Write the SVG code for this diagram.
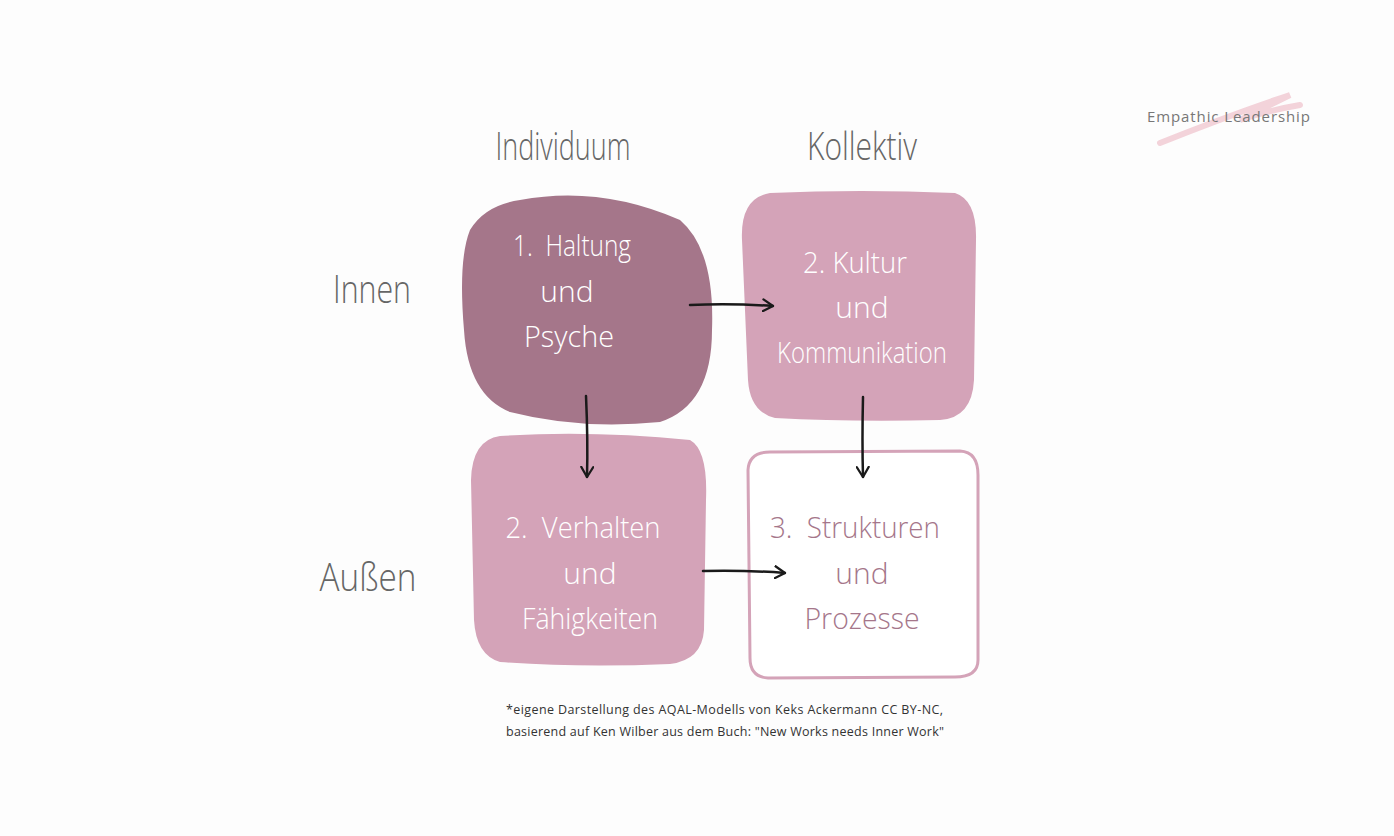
<svg xmlns="http://www.w3.org/2000/svg" width="1394" height="836" viewBox="0 0 1394 836">
<style>
.h{font-family:"Open Sans",sans-serif;font-weight:300;fill:#666;font-size:38px}
.t{font-family:"Open Sans",sans-serif;font-weight:300;fill:#fff;font-size:30px;text-anchor:middle;white-space:pre}
.p{fill:#a5768a}
.w{fill:#fff;stroke:#d4a3b8;stroke-width:3}
.c{stroke:#1a1a1a;stroke-width:2.5;fill:none;stroke-linecap:round}
</style>
<defs><marker id="a" viewBox="0 0 12 14" refX="11" refY="7" markerWidth="12" markerHeight="14" markerUnits="userSpaceOnUse" orient="auto"><path d="M1 1 L11 7 L1 13" fill="none" stroke="#1a1a1a" stroke-width="2.2" stroke-linecap="round"/></marker></defs>
<rect width="1394" height="836" fill="#fdfdfd"/>
<g id="logo"><path d="M1160 143 Q1230 115 1290 95 L1240 120 Q1270 110 1300 105" stroke="#f3d3da" stroke-width="6" fill="none" stroke-linecap="round"/>
<text x="1147" y="122" font-family="Open Sans,sans-serif" font-size="15" fill="#777" textLength="163" lengthAdjust="spacing">Empathic Leadership</text></g>
<text class="h" x="563" y="160" text-anchor="middle" textLength="135" lengthAdjust="spacingAndGlyphs">Individuum</text>
<text class="h" x="862" y="160" text-anchor="middle" textLength="110" lengthAdjust="spacingAndGlyphs">Kollektiv</text>
<text class="h" x="372" y="303" text-anchor="middle" textLength="78" lengthAdjust="spacingAndGlyphs">Innen</text>
<text class="h" x="368" y="591" text-anchor="middle" textLength="97" lengthAdjust="spacingAndGlyphs">Außen</text>
<g id="n1"><path class="p" d="M520 200 Q600 185 680 220 Q715 250 712 330 Q712 405 660 422 Q580 430 510 412 Q468 395 464 330 Q458 260 470 230 Q485 205 520 200Z"/>
<text class="t" x="572" y="256" textLength="118" lengthAdjust="spacingAndGlyphs">1.  Haltung</text>
<text class="t" x="567" y="302">und</text>
<text class="t" x="569" y="347" textLength="90" lengthAdjust="spacingAndGlyphs">Psyche</text></g>
<g id="n2"><path d="M770 193 Q860 189 955 193 Q977 200 976 240 L974 380 Q972 418 940 420 Q850 422 775 418 Q750 412 748 380 L742 240 Q740 198 770 193Z" fill="#d4a3b8"/>
<text class="t" x="855" y="273" textLength="104" lengthAdjust="spacingAndGlyphs">2. Kultur</text>
<text class="t" x="862" y="318">und</text>
<text class="t" x="862" y="363" textLength="170" lengthAdjust="spacingAndGlyphs">Kommunikation</text></g>
<g id="n3"><path d="M500 436 Q590 430 690 440 Q708 450 706 500 L704 630 Q702 660 670 664 Q580 668 500 662 Q476 655 474 620 L471 480 Q472 440 500 436Z" fill="#d4a3b8"/>
<text class="t" x="583" y="538" textLength="155" lengthAdjust="spacingAndGlyphs">2.  Verhalten</text>
<text class="t" x="590" y="584">und</text>
<text class="t" x="590" y="629" textLength="136" lengthAdjust="spacingAndGlyphs">Fähigkeiten</text></g>
<g id="n4"><path class="w" d="M770 452 L960 451 Q978 452 978 475 L978 660 Q978 677 955 677 L768 678 Q750 677 750 658 L748 470 Q749 452 770 452Z"/>
<text class="t" style="fill:#a5768a" x="855" y="538" textLength="170" lengthAdjust="spacingAndGlyphs">3.  Strukturen</text>
<text class="t" style="fill:#a5768a" x="862" y="584">und</text>
<text class="t" style="fill:#a5768a" x="862" y="629" textLength="115" lengthAdjust="spacingAndGlyphs">Prozesse</text></g>
<g id="connectors">
<path class="c" marker-end="url(#a)" d="M690 305 Q730 303 773 306"/>
<path class="c" marker-end="url(#a)" d="M586 396 Q588 440 587 477"/>
<path class="c" marker-end="url(#a)" d="M863 397 Q862 440 863 477"/>
<path class="c" marker-end="url(#a)" d="M703 571 Q745 570 785 573"/>
</g>
<g id="footer" font-family="Open Sans,sans-serif" font-size="12.5" fill="#333">
<text x="506" y="714" textLength="437" lengthAdjust="spacing">*eigene Darstellung des AQAL-Modells von Keks Ackermann CC BY-NC,</text>
<text x="506" y="736" textLength="438" lengthAdjust="spacing">basierend auf Ken Wilber aus dem Buch: "New Works needs Inner Work"</text></g>
</svg>
